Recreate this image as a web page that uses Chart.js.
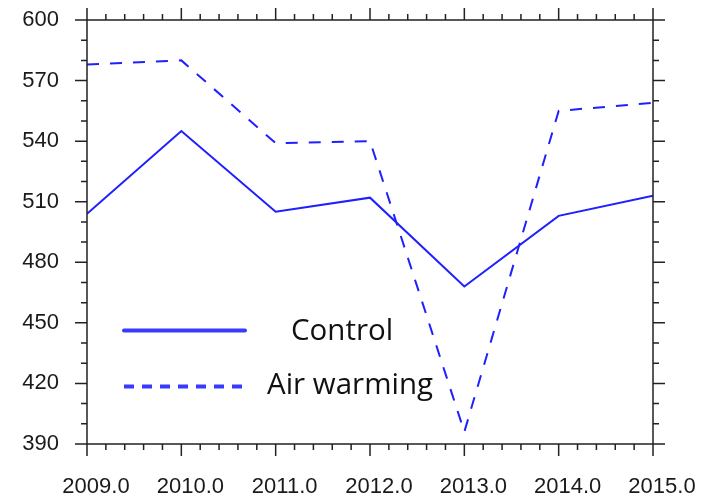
<!DOCTYPE html>
<html>
<head>
<meta charset="utf-8">
<script src="https://cdn.jsdelivr.net/npm/chart.js@4/dist/chart.umd.min.js"></script>
<style>
html,body{margin:0;padding:0;background:#fff;}
#wrap{width:704px;height:501px;position:relative;}
</style>
</head>
<body>
<div id="wrap"><canvas id="c" width="704" height="501"></canvas></div>
<script>
const years = [2009, 2010, 2011, 2012, 2013, 2014, 2015];
const controlValues = [504, 545, 505, 512, 468, 503, 513];
const warmingValues = [578, 580, 539, 540, 396, 555, 559];
const seriesLabels = ['Control', 'Air warming'];
const yTicks = [390, 420, 450, 480, 510, 540, 570, 600];

const LINE_COLOR = '#1f1fff';
const LEGEND_COLOR = '#3a3aff';
const AXIS_COLOR = '#222';

const frameTicks = {
  id: 'frameTicks',
  afterDraw(chart) {
    const {ctx, chartArea: a, scales: {x, y}} = chart;
    ctx.save();
    ctx.strokeStyle = AXIS_COLOR;
    ctx.lineWidth = 1.5;
    ctx.strokeRect(a.left, a.top, a.right - a.left, a.bottom - a.top);
    ctx.beginPath();
    for (let v = years[0]; v <= years[years.length - 1] + 1e-6; v += 0.2) {
      const px = x.getPixelForValue(v);
      const major = Math.abs(v - Math.round(v)) < 1e-6;
      const L = major ? 12 : 6;
      ctx.moveTo(px, a.bottom); ctx.lineTo(px, a.bottom + L);
      ctx.moveTo(px, a.top); ctx.lineTo(px, a.top - L);
    }
    for (let v = yTicks[0]; v <= yTicks[yTicks.length - 1]; v += 10) {
      const py = y.getPixelForValue(v);
      const major = (v - yTicks[0]) % 30 === 0;
      const L = major ? 12 : 6;
      ctx.moveTo(a.left, py); ctx.lineTo(a.left - L, py);
      ctx.moveTo(a.right, py); ctx.lineTo(a.right + L, py);
    }
    ctx.stroke();

    const ds = chart.data.datasets;
    const rows = [
      {y: 330.5, dash: [], tx: 291, ty: 340},
      {y: 386.5, dash: [10, 8], tx: 267, ty: 394}
    ];
    ctx.font = '29.5px "Open Sans"';
    ctx.textBaseline = 'alphabetic';
    ctx.textAlign = 'left';
    rows.forEach((r, i) => {
      ctx.beginPath();
      ctx.strokeStyle = LEGEND_COLOR;
      ctx.lineWidth = 4;
      ctx.lineCap = i === 0 ? 'round' : 'butt';
      ctx.setLineDash(r.dash);
      ctx.moveTo(124, r.y); ctx.lineTo(245, r.y);
      ctx.stroke();
      ctx.setLineDash([]);
      ctx.fillStyle = '#111';
      ctx.fillText(ds[i].label, r.tx, r.ty);
    });
    ctx.restore();
  }
};

new Chart(document.getElementById('c'), {
  type: 'line',
  data: {
    datasets: [
      {
        label: seriesLabels[0],
        data: years.map((yr, i) => ({x: yr, y: controlValues[i]})),
        borderColor: LINE_COLOR,
        borderWidth: 2,
        pointRadius: 0,
        tension: 0,
        fill: false
      },
      {
        label: seriesLabels[1],
        data: years.map((yr, i) => ({x: yr, y: warmingValues[i]})),
        borderColor: LINE_COLOR,
        borderWidth: 2,
        borderDash: [12, 11],
        pointRadius: 0,
        tension: 0,
        fill: false
      }
    ]
  },
  options: {
    responsive: false,
    animation: false,
    devicePixelRatio: 1,
    layout: {padding: {top: 20, right: 51, left: 0, bottom: 0}},
    plugins: {legend: {display: false}, tooltip: {enabled: false}},
    scales: {
      x: {
        type: 'linear',
        min: years[0],
        max: years[years.length - 1],
        grid: {display: false},
        border: {display: false},
        afterFit(s) { s.height = 57; s.paddingLeft = 0; s.paddingRight = 0; },
        afterBuildTicks(s) { s.ticks = years.map(v => ({value: v})); },
        ticks: {
          padding: 22,
          labelOffset: 9,
          maxRotation: 0,
          autoSkip: false,
          color: '#1a1a1a',
          font: {family: '"Liberation Sans"', size: 22},
          callback: v => Number(v).toFixed(1)
        }
      },
      y: {
        min: yTicks[0],
        max: yTicks[yTicks.length - 1],
        grid: {display: false},
        border: {display: false},
        afterFit(s) { s.width = 87; s.paddingTop = 0; s.paddingBottom = 0; },
        afterBuildTicks(s) { s.ticks = yTicks.map(v => ({value: v})); },
        ticks: {
          padding: 20,
          color: '#1a1a1a',
          font: {family: '"Liberation Sans"', size: 22}
        }
      }
    }
  },
  plugins: [frameTicks]
});
</script>
</body>
</html>
